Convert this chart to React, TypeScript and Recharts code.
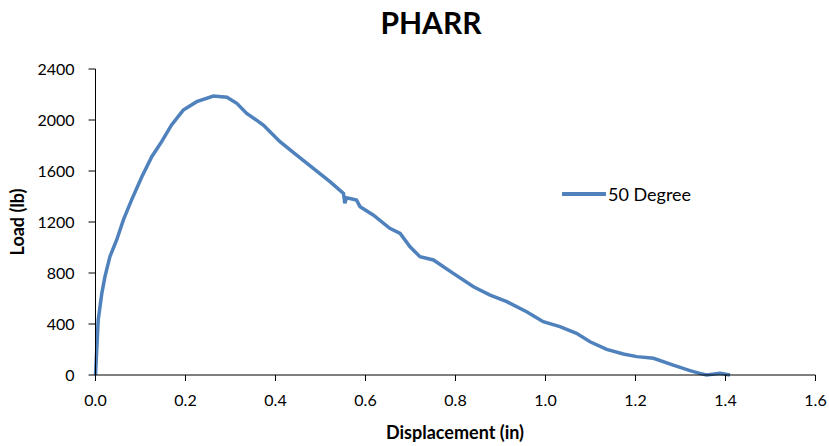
import React from 'react';
import { LineChart, Line, XAxis, YAxis, Legend, Label } from 'recharts';

// displacement (in) and load (lb)
const displacement = [
  0, 0.006, 0.014, 0.021, 0.032, 0.047, 0.062, 0.08, 0.103, 0.125, 0.147, 0.169,
  0.195, 0.225, 0.262, 0.292, 0.314, 0.336, 0.373, 0.41, 0.447, 0.484, 0.521,
  0.551, 0.554, 0.558, 0.58, 0.588, 0.617, 0.654, 0.677, 0.699, 0.721, 0.751,
  0.795, 0.84, 0.877, 0.914, 0.958, 0.995, 1.032, 1.069, 1.099, 1.136, 1.173,
  1.203, 1.24, 1.284, 1.321, 1.343, 1.358, 1.388, 1.41,
];
const load = [
  0, 431, 640, 771, 928, 1059, 1216, 1372, 1555, 1712, 1830, 1961,
  2078, 2144, 2188, 2178, 2131, 2052, 1961, 1830, 1725, 1621, 1516,
  1425, 1347, 1390, 1372, 1320, 1255, 1150, 1111, 1006, 928, 902,
  797, 692, 627, 575, 496, 418, 379, 327, 261, 201, 165,
  144, 131, 78, 34, 13, 0, 13, 0,
];

const xTicks = [0, 0.2, 0.4, 0.6, 0.8, 1.0, 1.2, 1.4, 1.6];
const yTicks = [0, 400, 800, 1200, 1600, 2000, 2400];
const seriesName = '50 Degree';

const FONT = 'Lato, "Open Sans", sans-serif';
const BLUE = '#4F81BD';

const chartData = displacement.map((x, i) => ({ x, load: load[i] }));

const LegendBox = () => (
  <div style={{ display: 'flex', alignItems: 'center', fontFamily: FONT, fontSize: 18, color: '#000' }}>
    <svg width={44} height={8}>
      <line x1={1} y1={4} x2={43} y2={4} stroke={BLUE} strokeWidth={4} strokeLinecap="round" />
    </svg>
    <span style={{ marginLeft: 2 }}>{seriesName}</span>
  </div>
);

export default function App() {
  return (
    <div style={{ position: 'absolute', left: 0, top: 0, width: 829, height: 446, background: '#fff' }}>
      <div
        style={{
          position: 'absolute', left: 0, width: 829, top: 4, textAlign: 'center',
          fontFamily: FONT, fontWeight: 700, fontSize: 30, color: '#000', paddingLeft: 33,
          boxSizing: 'border-box',
        }}
      >
        PHARR
      </div>
      <LineChart
        width={829}
        height={446}
        data={chartData}
        margin={{ top: 69, right: 13.5, left: 0, bottom: 41 }}
      >
        <XAxis
          dataKey="x"
          type="number"
          domain={[0, 1.6]}
          ticks={xTicks}
          tickFormatter={(v: number) => v.toFixed(1)}
          height={30}
          stroke="#000"
          tickSize={6}
          tickMargin={14}
          tick={{ fill: '#000', fontSize: 16, fontFamily: FONT }}
        >
          <Label
            content={() => (
              <text x={455} y={439} textAnchor="middle" fontFamily={FONT} fontWeight={700} fontSize={18} fill="#000">
                Displacement (in)
              </text>
            )}
          />
        </XAxis>
        <YAxis
          type="number"
          domain={[0, 2400]}
          ticks={yTicks}
          width={95.5}
          stroke="#000"
          tickSize={7}
          tickMargin={14}
          tick={{ fill: '#000', fontSize: 16, fontFamily: FONT }}
        >
          <Label
            content={() => (
              <text
                x={24}
                y={222}
                transform="rotate(-90 24 222)"
                textAnchor="middle"
                fontFamily={FONT}
                fontWeight={700}
                fontSize={18}
                fill="#000"
              >
                Load (lb)
              </text>
            )}
          />
        </YAxis>
        <Legend
          verticalAlign="middle"
          layout="horizontal"
          content={() => <LegendBox />}
          wrapperStyle={{ position: 'absolute', left: 562, top: 183, width: 'auto' }}
        />
        <Line
          type="linear"
          dataKey="load"
          name={seriesName}
          stroke={BLUE}
          strokeWidth={3.5}
          dot={false}
          isAnimationActive={false}
        />
      </LineChart>
    </div>
  );
}
